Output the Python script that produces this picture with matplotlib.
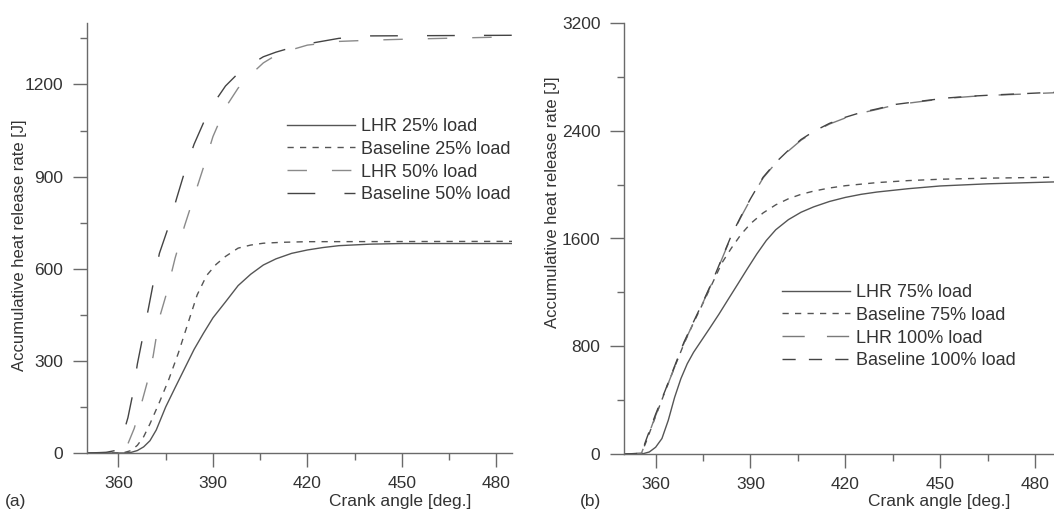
import matplotlib
matplotlib.use("Agg")
import matplotlib.pyplot as plt

plt.rcParams['font.family'] = ['Liberation Sans', 'DejaVu Sans']
plt.rcParams['lines.scale_dashes'] = False

# ---------------- panel (a) data ----------------
lhr25_x = [350, 362, 364, 366, 368, 370, 372, 375, 378, 381, 384, 387, 390, 394, 398, 402, 406, 410, 415, 420, 425, 430, 440, 450, 485]
lhr25_y = [0, 0, 2, 8, 20, 40, 75, 150, 213, 275, 337, 390, 440, 492, 545, 582, 612, 632, 650, 661, 669, 675, 680, 682, 682]

base25_x = [350, 360, 362, 364, 366, 368, 370, 373, 376, 379, 382, 385, 388, 391, 394, 398, 402, 406, 412, 420, 485]
base25_y = [0, 0, 2, 8, 25, 53, 95, 165, 240, 325, 420, 515, 578, 614, 640, 667, 677, 683, 686, 688, 689]

lhr50_x = [350, 358, 361, 363, 365, 367, 369, 371, 373, 375, 378, 381, 384, 387, 390, 394, 398, 402, 406, 410, 415, 420, 430, 440, 450, 485]
lhr50_y = [0, 2, 8, 30, 80, 150, 225, 315, 440, 510, 635, 740, 835, 930, 1030, 1125, 1188, 1232, 1270, 1295, 1313, 1328, 1340, 1344, 1347, 1355]

base50_x = [350, 356, 359, 361, 363, 364.5, 366, 367.5, 369.5, 371, 373, 376, 378.5, 381, 384, 387, 390, 394, 398, 402, 406, 410, 415, 420, 430, 440, 485]
base50_y = [0, 2, 8, 45, 115, 190, 290, 367, 470, 550, 650, 740, 830, 915, 1005, 1075, 1135, 1195, 1236, 1265, 1290, 1305, 1320, 1332, 1350, 1358, 1360]

# ---------------- panel (b) data ----------------
lhr75_x = [350, 356, 358, 360, 362, 364, 366, 368, 370, 372, 374, 377, 380, 383, 386, 389, 392, 395, 398, 402, 406, 410, 415, 420, 425, 430, 440, 450, 465, 486]
lhr75_y = [0, 2, 15, 50, 115, 250, 420, 560, 670, 755, 825, 930, 1037, 1150, 1262, 1375, 1485, 1585, 1665, 1740, 1795, 1835, 1875, 1905, 1928, 1945, 1970, 1990, 2006, 2020]

base75_x = [350, 355.5, 357, 360, 363, 366, 369, 372, 375, 378, 381, 384, 387, 390, 394, 398, 402, 406, 410, 415, 420, 430, 440, 450, 465, 486]
base75_y = [0, 5, 90, 280, 465, 645, 820, 975, 1120, 1270, 1420, 1530, 1630, 1710, 1790, 1850, 1895, 1928, 1952, 1975, 1992, 2015, 2030, 2040, 2048, 2055]

lhr100_x = [350, 355.5, 357, 360, 363, 366, 369, 372, 375, 378, 381, 384, 387, 390, 394, 398, 402, 406, 410, 415, 420, 425, 430, 436, 445, 452, 460, 468, 476, 486]
lhr100_y = [0, 5, 95, 285, 465, 645, 825, 975, 1125, 1280, 1450, 1620, 1760, 1890, 2050, 2160, 2250, 2330, 2390, 2450, 2495, 2532, 2558, 2593, 2620, 2640, 2655, 2665, 2672, 2682]

base100_x = [350, 355.5, 357, 360, 363, 366, 369, 372, 375, 378, 381, 384, 387, 390, 394, 398, 402, 406, 410, 415, 420, 425, 430, 436, 445, 452, 460, 468, 476, 486]
base100_y = [0, 5, 105, 295, 470, 652, 832, 982, 1130, 1285, 1455, 1625, 1765, 1895, 2055, 2165, 2255, 2335, 2395, 2455, 2500, 2536, 2562, 2596, 2623, 2643, 2657, 2667, 2675, 2686]

labels_a = ["LHR 25% load", "Baseline 25% load", "LHR 50% load", "Baseline 50% load"]
labels_b = ["LHR 75% load", "Baseline 75% load", "LHR 100% load", "Baseline 100% load"]

xticks = [360, 390, 420, 450, 480]
yticks_a = [0, 300, 600, 900, 1200]
yticks_b = [0, 800, 1600, 2400, 3200]

FS_TICK = 12.5
FS_LEG = 13
FS_LAB = 12.5
TXT = '#333333'
SP = '#6a6a6a'

fig = plt.figure(figsize=(10.54, 5.11), dpi=100)
ax1 = fig.add_axes([87/1054, 58/511, 425/1054, 430/511])
ax2 = fig.add_axes([624/1054, 57/511, 430/1054, 431/511])

def style(ax, yticks, yminor, xmax, ymax):
    ax.set_xlim(350, xmax)
    ax.set_ylim(0, ymax)
    for s in ['top', 'right']:
        ax.spines[s].set_visible(False)
    for s in ['left', 'bottom']:
        ax.spines[s].set_color(SP)
        ax.spines[s].set_linewidth(1.0)
    ax.set_xticks(xticks)
    ax.set_xticks([375, 405, 435, 465], minor=True)
    ax.set_yticks(yticks)
    ax.set_yticks(yminor, minor=True)
    ax.tick_params(axis='both', which='major', length=10, width=1.0, color=SP,
                   labelsize=FS_TICK, labelcolor=TXT, direction='out')
    ax.tick_params(axis='both', which='minor', length=5, width=1.0, color=SP, direction='out')
    ax.tick_params(axis='x', pad=6.5)
    ax.tick_params(axis='y', pad=7)
    ax.patch.set_alpha(0)

style(ax1, yticks_a, [150, 450, 750, 1050, 1350], 485, 1400)
style(ax2, yticks_b, [400, 1200, 2000, 2800], 486, 3200)

lw = 1.0
ax1.plot(lhr25_x, lhr25_y, color='#555555', lw=lw, label=labels_a[0])
ax1.plot(base25_x, base25_y, color='#555555', lw=lw, dashes=(4.5, 4.5), label=labels_a[1])
ax1.plot(lhr50_x, lhr50_y, color='#8a8a8a', lw=lw, dashes=(14, 18), label=labels_a[2])
ax1.plot(base50_x, base50_y, color='#444444', lw=lw, dashes=(20, 21), label=labels_a[3])

ax2.plot(lhr75_x, lhr75_y, color='#555555', lw=lw, label=labels_b[0])
ax2.plot(base75_x, base75_y, color='#555555', lw=lw, dashes=(4.5, 4.5), label=labels_b[1])
ax2.plot(lhr100_x, lhr100_y, color='#7a7a7a', lw=lw, dashes=(16, 16), label=labels_b[2])
ax2.plot(base100_x, base100_y, color='#444444', lw=lw, dashes=(9.5, 9.5), label=labels_b[3])

leg_kw = dict(frameon=False, fontsize=FS_LEG, handlelength=3.75, handletextpad=0.33,
              labelspacing=0.32, borderpad=0, borderaxespad=0, loc='upper left')
l1 = ax1.legend(bbox_to_anchor=(287/1054, 1 - 118/511), bbox_transform=fig.transFigure, **leg_kw)
l2 = ax2.legend(bbox_to_anchor=(782/1054, 1 - 284/511), bbox_transform=fig.transFigure, **leg_kw)
for l in (l1, l2):
    for t in l.get_texts():
        t.set_color(TXT)

fig.text(20/1054, 1 - 245/511, "Accumulative heat release rate [J]", rotation=90,
         ha='center', va='center', fontsize=12, color=TXT)
fig.text(552/1054, 1 - 202/511, "Accumulative heat release rate [J]", rotation=90,
         ha='center', va='center', fontsize=12, color=TXT)
fig.text(400/1054, 1 - 501/511, "Crank angle [deg.]", ha='center', va='center', fontsize=FS_LAB, color=TXT)
fig.text(939/1054, 1 - 501/511, "Crank angle [deg.]", ha='center', va='center', fontsize=FS_LAB, color=TXT)
fig.text(5/1054, 1 - 501/511, "(a)", ha='left', va='center', fontsize=FS_LAB, color=TXT)
fig.text(580/1054, 1 - 501/511, "(b)", ha='left', va='center', fontsize=FS_LAB, color=TXT)

fig.savefig("out.png", dpi=100)
